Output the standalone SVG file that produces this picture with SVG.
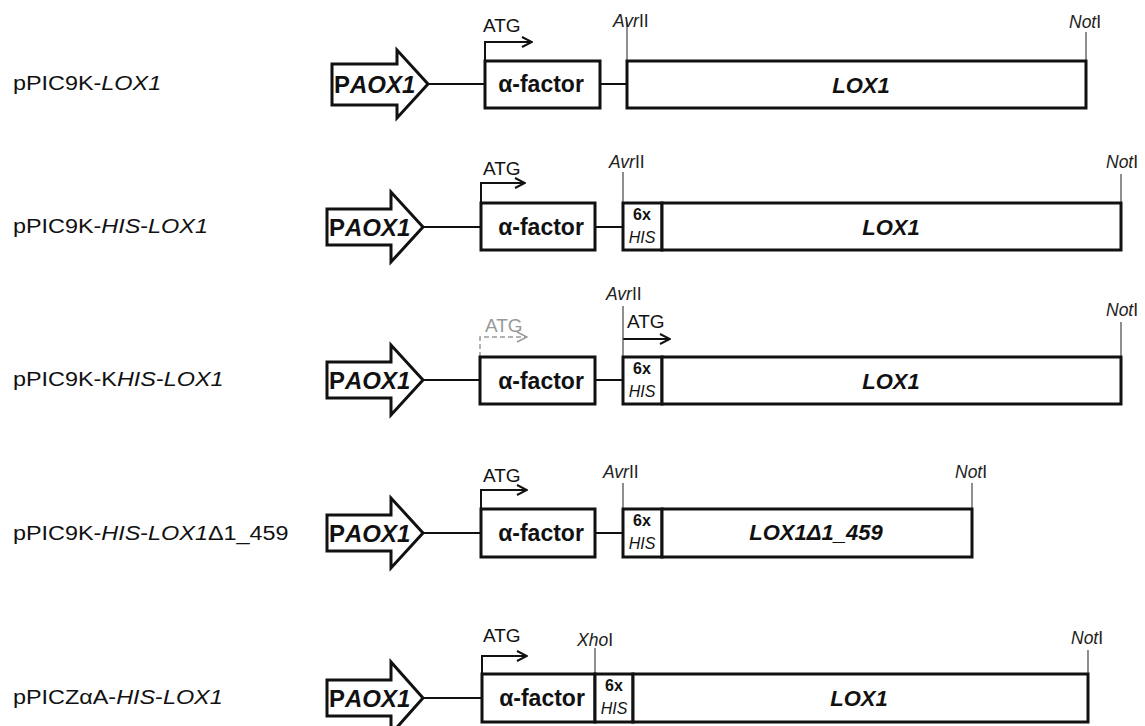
<svg xmlns="http://www.w3.org/2000/svg" width="1145" height="726" viewBox="0 0 1145 726">
<defs>
<marker id="chev" viewBox="0 0 12 12" refX="11" refY="6" markerWidth="12" markerHeight="12" markerUnits="userSpaceOnUse" orient="auto">
<path d="M1,1 L11,6 L1,11" fill="none" stroke="#111" stroke-width="2"/>
</marker>
<marker id="chevg" viewBox="0 0 12 12" refX="11" refY="6" markerWidth="12" markerHeight="12" markerUnits="userSpaceOnUse" orient="auto">
<path d="M1,1 L11,6 L1,11" fill="none" stroke="#999" stroke-width="1.5"/>
</marker>
</defs>
<style>
text{font-family:"Liberation Sans",Arial,sans-serif;fill:#111}
.lab{font-size:19.5px}
.atg{font-size:19px}
.atgg{font-size:19px;fill:#999}
.site{font-size:17.5px;fill:#222}
.alpha{font-size:23px;font-weight:bold}
.lox{font-size:22px;font-weight:bold;font-style:italic}
.prom{font-size:24px;font-weight:bold}
.six{font-size:16px;font-weight:bold}
.his{font-size:16px;font-style:italic}
.i{font-style:italic}
.box{fill:#fff;stroke:#111;stroke-width:3}
.arrowshape{fill:#fff;stroke:#111;stroke-width:3;stroke-linejoin:miter}
.link{stroke:#111;stroke-width:2;fill:none}
.cut{stroke:#444;stroke-width:1.2;fill:none}
.start{stroke:#111;stroke-width:2;fill:none;marker-end:url(#chev)}
.startg{stroke:#999;stroke-width:1.5;fill:none;stroke-dasharray:5 3;marker-end:url(#chevg)}
</style>
<rect width="1145" height="726" fill="#fff"/>

<g id="connectors">
<line class="link" x1="428" y1="84" x2="485" y2="84"/>
<line class="link" x1="600" y1="84" x2="627" y2="84"/>
<line class="link" x1="423" y1="227" x2="481" y2="227"/>
<line class="link" x1="595" y1="227" x2="623" y2="227"/>
<line class="link" x1="423" y1="380" x2="480" y2="380"/>
<line class="link" x1="595" y1="380" x2="623" y2="380"/>
<line class="link" x1="423" y1="533" x2="481" y2="533"/>
<line class="link" x1="595" y1="533" x2="623" y2="533"/>
<line class="link" x1="423" y1="698" x2="482" y2="698"/>
<path class="start" d="M485,61 V42 H532"/>
<path class="start" d="M481,203 V183 H525"/>
<path class="startg" d="M480,357 V337 H527"/>
<path class="start" d="M623,339 H670"/>
<path class="start" d="M481,509 V490 H527"/>
<path class="start" d="M482,674 V656 H527"/>
<line class="cut" x1="627" y1="22" x2="627" y2="61"/>
<line class="cut" x1="1086" y1="32" x2="1086" y2="61"/>
<line class="cut" x1="623" y1="172" x2="623" y2="203"/>
<line class="cut" x1="1121" y1="174" x2="1121" y2="203"/>
<line class="cut" x1="623" y1="306" x2="623" y2="357"/>
<line class="cut" x1="1121" y1="322" x2="1121" y2="357"/>
<line class="cut" x1="623" y1="483" x2="623" y2="509"/>
<line class="cut" x1="972" y1="483" x2="972" y2="509"/>
<line class="cut" x1="595" y1="648" x2="595" y2="674"/>
<line class="cut" x1="1088" y1="650" x2="1088" y2="674"/>
</g>

<g id="row1">
<g id="label1" transform="translate(13 0) scale(1.2 1)"><text class="lab" x="0" y="90">pPIC9K-<tspan class="i">LOX1</tspan></text></g>
<g id="prom1"><polygon class="arrowshape" points="332,64 397,64 397,50 428,84 397,118 397,105 332,105"/><text class="prom" x="334" y="93">P<tspan class="i">AOX1</tspan></text></g>
<g id="alpha1"><rect class="box" x="485" y="61" width="115" height="47"/><text class="alpha" x="541" y="92" text-anchor="middle">α-factor</text></g>
<g id="lox1"><rect class="box" x="627" y="61" width="459" height="47"/><text class="lox" x="861" y="93" text-anchor="middle">LOX1</text></g>
<g id="atg1"><text class="atg" x="483" y="32">ATG</text></g>
<g id="avr1"><text class="site" x="613" y="27"><tspan class="i">Avr</tspan>II</text></g>
<g id="not1"><text class="site" x="1069" y="28"><tspan class="i">Not</tspan>I</text></g>
</g>

<g id="row2">
<g id="label2" transform="translate(13 0) scale(1.2 1)"><text class="lab" x="0" y="233">pPIC9K-<tspan class="i">HIS</tspan>-<tspan class="i">LOX1</tspan></text></g>
<g id="prom2"><polygon class="arrowshape" points="327,209 391,209 391,192 423,227 391,262 391,245 327,245"/><text class="prom" x="329" y="236">P<tspan class="i">AOX1</tspan></text></g>
<g id="alpha2"><rect class="box" x="481" y="203" width="114" height="47"/><text class="alpha" x="541" y="235" text-anchor="middle">α-factor</text></g>
<g id="his2"><rect class="box" x="623" y="203" width="39" height="47"/><text class="six" x="642" y="220" text-anchor="middle">6x</text><text class="his" x="642" y="243" text-anchor="middle">HIS</text></g>
<g id="lox2"><rect class="box" x="662" y="203" width="459" height="47"/><text class="lox" x="891" y="235" text-anchor="middle">LOX1</text></g>
<g id="atg2"><text class="atg" x="483" y="175">ATG</text></g>
<g id="avr2"><text class="site" x="609" y="168"><tspan class="i">Avr</tspan>II</text></g>
<g id="not2"><text class="site" x="1106" y="168"><tspan class="i">Not</tspan>I</text></g>
</g>

<g id="row3">
<g id="label3" transform="translate(13 0) scale(1.2 1)"><text class="lab" x="0" y="386">pPIC9K-K<tspan class="i">HIS</tspan>-<tspan class="i">LOX1</tspan></text></g>
<g id="prom3"><polygon class="arrowshape" points="327,362 391,362 391,345 423,380 391,415 391,398 327,398"/><text class="prom" x="329" y="389">P<tspan class="i">AOX1</tspan></text></g>
<g id="alpha3"><rect class="box" x="480" y="357" width="115" height="47"/><text class="alpha" x="541" y="389" text-anchor="middle">α-factor</text></g>
<g id="his3"><rect class="box" x="623" y="357" width="39" height="47"/><text class="six" x="642" y="374" text-anchor="middle">6x</text><text class="his" x="642" y="397" text-anchor="middle">HIS</text></g>
<g id="lox3"><rect class="box" x="662" y="357" width="459" height="47"/><text class="lox" x="891" y="389" text-anchor="middle">LOX1</text></g>
<g id="atg3a"><text class="atgg" x="485" y="332">ATG</text></g>
<g id="atg3b"><text class="atg" x="627" y="328">ATG</text></g>
<g id="avr3"><text class="site" x="606" y="300"><tspan class="i">Avr</tspan>II</text></g>
<g id="not3"><text class="site" x="1106" y="316"><tspan class="i">Not</tspan>I</text></g>
</g>

<g id="row4">
<g id="label4" transform="translate(13 0) scale(1.2 1)"><text class="lab" x="0" y="540">pPIC9K-<tspan class="i">HIS</tspan>-<tspan class="i">LOX1</tspan>Δ1_459</text></g>
<g id="prom4"><polygon class="arrowshape" points="327,515 391,515 391,498 423,533 391,568 391,551 327,551"/><text class="prom" x="329" y="542">P<tspan class="i">AOX1</tspan></text></g>
<g id="alpha4"><rect class="box" x="481" y="509" width="114" height="48"/><text class="alpha" x="541" y="541" text-anchor="middle">α-factor</text></g>
<g id="his4"><rect class="box" x="623" y="509" width="39" height="48"/><text class="six" x="642" y="526" text-anchor="middle">6x</text><text class="his" x="642" y="549" text-anchor="middle">HIS</text></g>
<g id="lox4"><rect class="box" x="662" y="509" width="310" height="48"/><text class="lox" x="816" y="540" text-anchor="middle">LOX1Δ1_459</text></g>
<g id="atg4"><text class="atg" x="483" y="482">ATG</text></g>
<g id="avr4"><text class="site" x="603" y="478"><tspan class="i">Avr</tspan>II</text></g>
<g id="not4"><text class="site" x="955" y="478"><tspan class="i">Not</tspan>I</text></g>
</g>

<g id="row5">
<g id="label5" transform="translate(13 0) scale(1.2 1)"><text class="lab" x="0" y="704">pPICZαA-<tspan class="i">HIS</tspan>-<tspan class="i">LOX1</tspan></text></g>
<g id="prom5"><polygon class="arrowshape" points="327,680 391,680 391,662 423,698 391,734 391,716 327,716"/><text class="prom" x="329" y="707">P<tspan class="i">AOX1</tspan></text></g>
<g id="alpha5"><rect class="box" x="482" y="674" width="113" height="48"/><text class="alpha" x="542" y="706" text-anchor="middle">α-factor</text></g>
<g id="his5"><rect class="box" x="595" y="674" width="38" height="48"/><text class="six" x="614" y="691" text-anchor="middle">6x</text><text class="his" x="614" y="714" text-anchor="middle">HIS</text></g>
<g id="lox5"><rect class="box" x="633" y="674" width="455" height="48"/><text class="lox" x="859" y="706" text-anchor="middle">LOX1</text></g>
<g id="atg5"><text class="atg" x="483" y="642">ATG</text></g>
<g id="xho5"><text class="site" x="577" y="646"><tspan class="i">Xho</tspan>I</text></g>
<g id="not5"><text class="site" x="1071" y="644"><tspan class="i">Not</tspan>I</text></g>
</g>
</svg>
